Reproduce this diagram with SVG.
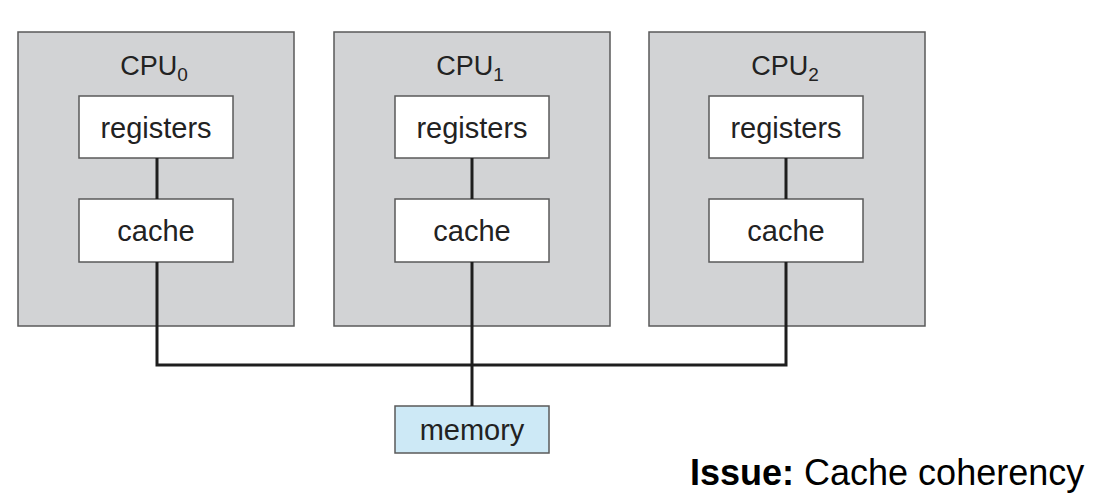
<svg xmlns="http://www.w3.org/2000/svg" width="1096" height="500" viewBox="0 0 1096 500">
<style>
.cpu{fill:#d2d3d5;stroke:#5a5a5a;stroke-width:1.5}
.box{fill:#ffffff;stroke:#5a5a5a;stroke-width:1.5}
.mem{fill:#cde9f6;stroke:#5a5a5a;stroke-width:1.5}
.t{font-family:"Liberation Sans",Arial,sans-serif;font-size:29px;fill:#222;text-anchor:middle}
.c{font-size:27px}
.sub{font-size:19px}
.line{stroke:#1e1e1e;stroke-width:3;fill:none}
</style>
<rect width="1096" height="500" fill="#ffffff"/>
<g id="cpu0">
<rect class="cpu" x="18" y="32" width="276" height="294"/>
<text class="t c" x="154" y="75">CPU<tspan class="sub" dy="6">0</tspan></text>
</g>
<g id="registers0"><rect class="box" x="79" y="96" width="154" height="62"/><text class="t" x="156" y="138">registers</text></g>
<g id="cache0"><rect class="box" x="79" y="199" width="154" height="63"/><text class="t" x="156" y="241">cache</text></g>
<g id="cpu1">
<rect class="cpu" x="334" y="32" width="276" height="294"/>
<text class="t c" x="470" y="75">CPU<tspan class="sub" dy="6">1</tspan></text>
</g>
<g id="registers1"><rect class="box" x="395" y="96" width="154" height="62"/><text class="t" x="472" y="138">registers</text></g>
<g id="cache1"><rect class="box" x="395" y="199" width="154" height="63"/><text class="t" x="472" y="241">cache</text></g>
<g id="cpu2">
<rect class="cpu" x="649" y="32" width="276" height="294"/>
<text class="t c" x="785" y="75">CPU<tspan class="sub" dy="6">2</tspan></text>
</g>
<g id="registers2"><rect class="box" x="709" y="96" width="154" height="62"/><text class="t" x="786" y="138">registers</text></g>
<g id="cache2"><rect class="box" x="709" y="199" width="154" height="63"/><text class="t" x="786" y="241">cache</text></g>
<g id="memory"><rect class="mem" x="395" y="406" width="154" height="47"/><text class="t" x="472" y="440">memory</text></g>
<g id="connectors">
<line class="line" x1="157" y1="158" x2="157" y2="199"/>
<line class="line" x1="472" y1="158" x2="472" y2="199"/>
<line class="line" x1="786" y1="158" x2="786" y2="199"/>
<path class="line" d="M157 262 V365 H786 V262"/>
<line class="line" x1="472" y1="262" x2="472" y2="406"/>
</g>
<text x="690" y="485" font-family="'Liberation Sans',Arial,sans-serif" font-size="36" fill="#000"><tspan font-weight="bold">Issue:</tspan> Cache coherency</text>
</svg>
